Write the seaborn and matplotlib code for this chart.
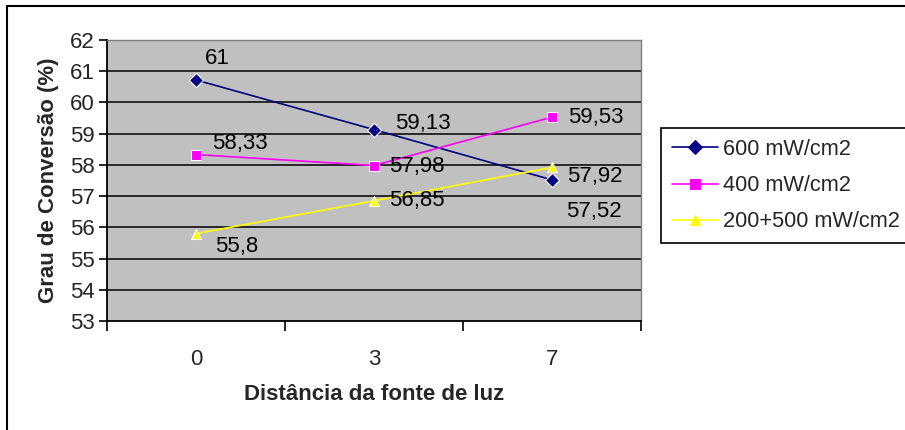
import numpy as np
import pandas as pd
import matplotlib
matplotlib.use("Agg")
import matplotlib.pyplot as plt
from matplotlib.patches import Rectangle
import seaborn as sns

# data
distances = ["0", "3", "7"]
series_names = ["600 mW/cm2", "400 mW/cm2", "200+500 mW/cm2"]
v600 = [60.72, 59.13, 57.52]
v400 = [58.33, 57.98, 59.53]
v200_500 = [55.8, 56.85, 57.92]
labels600 = ["61", "59,13", "57,52"]
labels400 = ["58,33", "57,98", "59,53"]
labels200_500 = ["55,8", "56,85", "57,92"]

colors = ["#000080", "#FF00FF", "#FFFF00"]
markers = ["D", "s", "^"]

rows = []
for name, vals in zip(series_names, [v600, v400, v200_500]):
    for i, v in enumerate(vals):
        rows.append({"pos": i, "valor": v, "serie": name})
df = pd.DataFrame(rows)

sns.set_style("white")
plt.rcParams["font.family"] = ["Liberation Sans", "DejaVu Sans"]

fig = plt.figure(figsize=(9.05, 4.3), dpi=100)
ax = fig.add_axes([107 / 905, 1 - 321 / 430, 534 / 905, 281 / 430])
ax.set_facecolor("#C0C0C0")

# horizontal gridlines
for y in range(54, 62):
    ax.axhline(y, color="black", lw=1.1, zorder=1)

sns.lineplot(data=df, x="pos", y="valor", hue="serie", style="serie",
             palette=dict(zip(series_names, colors)),
             markers=dict(zip(series_names, markers)),
             dashes=False, markersize=7.5, linewidth=1.2,
             ax=ax, legend=True, zorder=3)
for line, c in zip(ax.lines[-3:], colors):
    line.set_markeredgecolor(c)

# data labels (Excel-style placement)
offsets = {
    0: [(21, 21), (49, 6), (42, -32)],
    1: [(44, 11), (43, -1), (44, 0)],
    2: [(41, -13), (43, 0), (43, -9)],
}
for k, (vals, labs) in enumerate(zip([v600, v400, v200_500],
                                     [labels600, labels400, labels200_500])):
    for i, (v, t) in enumerate(zip(vals, labs)):
        ax.annotate(t, (i, v), xytext=offsets[k][i], textcoords="offset pixels",
                    ha="center", va="center", fontsize=16, color="black",
                    zorder=4)

ax.set_xlim(-0.5, 2.5)
ax.set_ylim(53, 62)
ax.set_yticks(range(53, 63))
ax.set_xticks([0, 1, 2])
ax.set_xticklabels(distances)
ax.set_xticks([-0.5, 0.5, 1.5, 2.5], minor=True)
ax.tick_params(axis="x", which="major", length=0, pad=20, labelsize=16)
ax.tick_params(axis="x", which="minor", length=7, width=1.2, color="black",
               direction="out")
ax.tick_params(axis="y", length=6, width=1.2, color="black", direction="out",
               pad=3, labelsize=16)
ax.yaxis.set_ticks_position("left")
ax.xaxis.set_ticks_position("bottom")

for s in ["left", "bottom"]:
    ax.spines[s].set_color("black")
    ax.spines[s].set_linewidth(1.3)
for s in ["top", "right"]:
    ax.spines[s].set_color("#808080")
    ax.spines[s].set_linewidth(1.0)

ax.set_xlabel("Distância da fonte de luz", fontsize=16, fontweight="bold",
              labelpad=10.5)
ax.set_ylabel("Grau de Conversão (%)", fontsize=16, fontweight="bold",
              labelpad=8)

handles, labs = ax.get_legend_handles_labels()
ax.get_legend().remove()
leg = fig.legend(handles, labs, loc="upper left",
                 bbox_to_anchor=(661 / 905, 1 - 128 / 430),
                 fontsize=15.7, frameon=True, fancybox=False, framealpha=1,
                 edgecolor="black", handlelength=2.1, handletextpad=0.25,
                 labelspacing=0.7, borderpad=0.5, borderaxespad=0)
leg.get_frame().set_linewidth(1.2)

# outer chart border
fig.patches.append(Rectangle((7 / 905, -0.05), 1.0, 1.05 - 6 / 430,
                             transform=fig.transFigure, fill=False,
                             edgecolor="black", lw=1.5))

fig.savefig("out.png", dpi=100)
